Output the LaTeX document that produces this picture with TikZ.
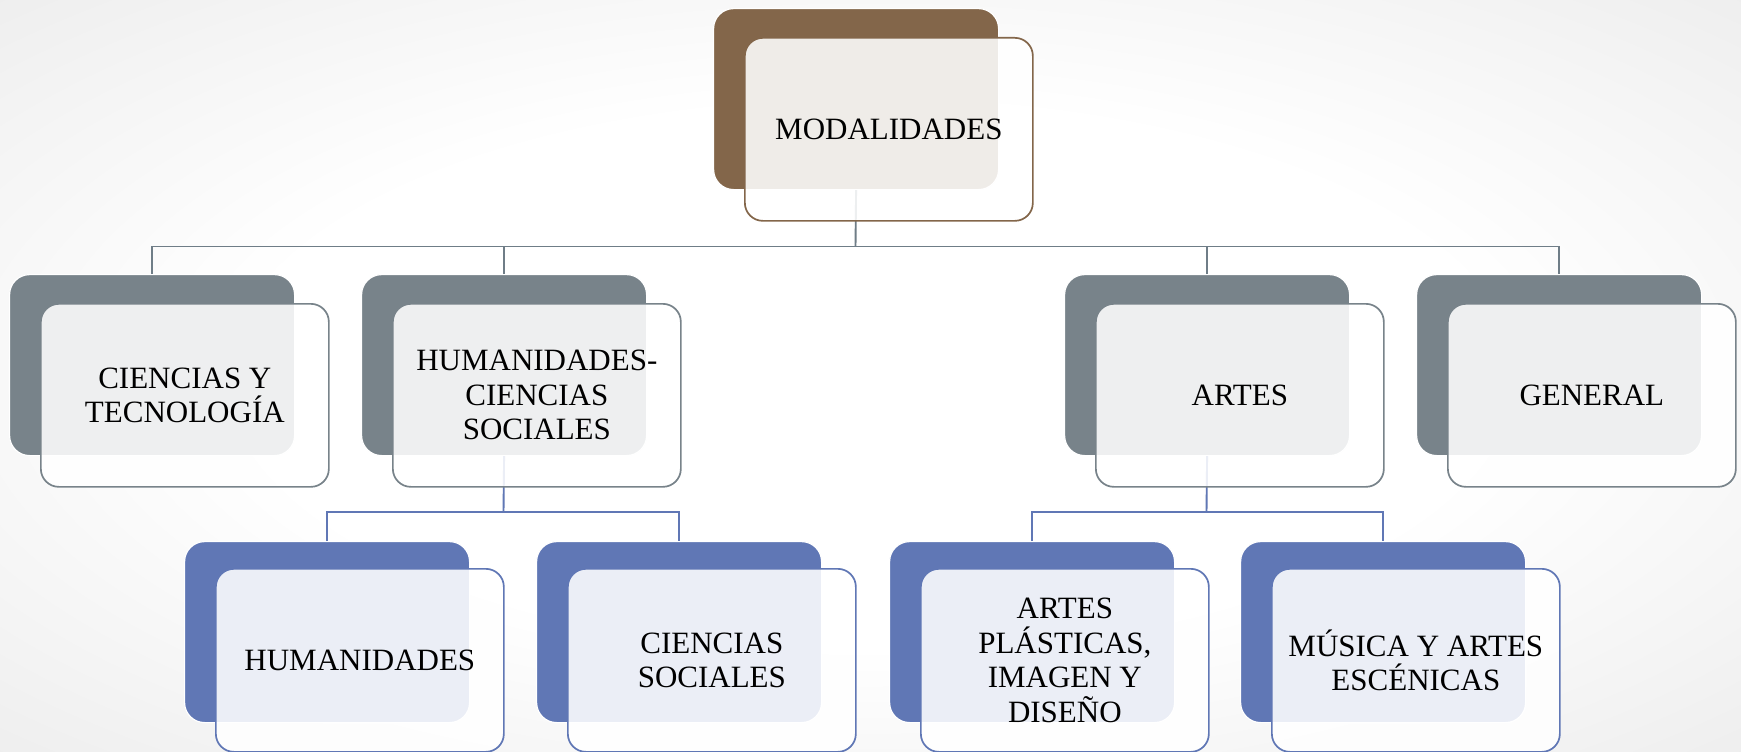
\documentclass[tikz,border=0pt]{standalone}
\usepackage{fontspec}
\setmainfont{Liberation Serif}
\definecolor{brn}{HTML}{83664A}
\definecolor{gry}{HTML}{78838A}
\definecolor{blu}{HTML}{6077B5}
\definecolor{lnk}{HTML}{6F7D87}
\pgfdeclareradialshading{bgshade}{\pgfpoint{0bp}{0bp}}{color(0bp)=(white); color(18bp)=(white); color(50bp)=(black!12); color(60bp)=(black!15)}
\begin{document}
\begin{tikzpicture}[x=1pt,y=-1pt,
  backbox/.style={rectangle, rounded corners=20pt, minimum width=285pt, minimum height=181pt, inner sep=0pt, anchor=north west, draw=white, line width=1.2pt},
  frontbox/.style={rectangle, rounded corners=18pt, minimum width=288pt, minimum height=183pt, inner sep=0pt, anchor=north west, fill=white, fill opacity=0.88, text opacity=1, line width=1.7pt, align=center, font=\fontsize{31}{34.5}\selectfont},
  conn/.style={line width=1.9pt}]
\useasboundingbox (0,0) rectangle (1741,752);
\shade[shading=bgshade] (0,0) rectangle (1741,752);

% connector junctions
\coordinate (j1) at (855.5,246.5);
\coordinate (j2) at (503.5,512);
\coordinate (j3) at (1206.5,512);

% back boxes
\node[backbox, fill=brn] (top-b) at (713,8) {};
\node[backbox, fill=gry] (c1-b) at (9,274) {};
\node[backbox, fill=gry] (c2-b) at (361,274) {};
\node[backbox, fill=gry] (c3-b) at (1064,274) {};
\node[backbox, fill=gry] (c4-b) at (1416,274) {};
\node[backbox, fill=blu] (h1-b) at (184,541) {};
\node[backbox, fill=blu] (h2-b) at (536,541) {};
\node[backbox, fill=blu] (a1-b) at (889,541) {};
\node[backbox, fill=blu] (a2-b) at (1240,541) {};

% connectors
\draw[conn, lnk] (top-b.south) -- (j1);
\draw[conn, lnk] (c1-b.north) |- (j1) -| (c4-b.north);
\draw[conn, lnk] (c2-b.north) -- (c2-b.north |- j1);
\draw[conn, lnk] (c3-b.north) -- (c3-b.north |- j1);
\draw[conn, blu] (c2-b.south) -- (j2);
\draw[conn, blu] (h1-b.north) |- (j2) -| (h2-b.north);
\draw[conn, blu] (c3-b.south) -- (j3);
\draw[conn, blu] (a1-b.north) |- (j3) -| (a2-b.north);

% front boxes
\node[frontbox, draw=brn] (top) at (744,37) {MODALIDADES};
\node[frontbox, draw=gry] (c1) at (40,303) {CIENCIAS Y\\TECNOLOGÍA};
\node[frontbox, draw=gry] (c2) at (392,303) {HUMANIDADES-\\CIENCIAS\\SOCIALES};
\node[frontbox, draw=gry] (c3) at (1095,303) {ARTES};
\node[frontbox, draw=gry] (c4) at (1447,303) {GENERAL};
\node[frontbox, draw=blu] (h1) at (215,568) {HUMANIDADES};
\node[frontbox, draw=blu] (h2) at (567,568) {CIENCIAS\\SOCIALES};
\node[frontbox, draw=blu] (a1) at (920,568) {ARTES\\PLÁSTICAS,\\IMAGEN Y\\DISEÑO};
\node[frontbox, draw=blu] (a2) at (1271,568) {MÚSICA Y ARTES\\ESCÉNICAS};
\end{tikzpicture}
\end{document}
